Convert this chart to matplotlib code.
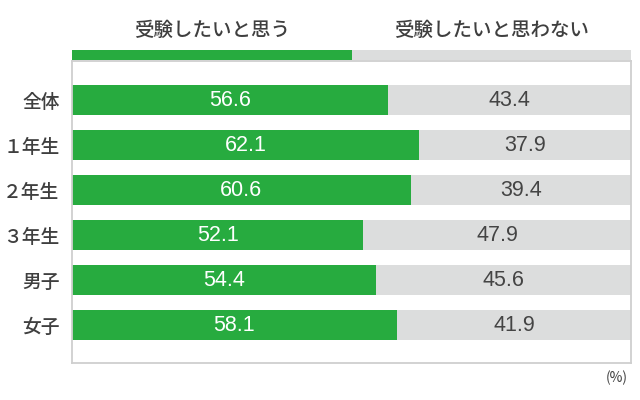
import matplotlib.pyplot as plt

plt.rcParams['font.family'] = ['Noto Sans CJK JP', 'DejaVu Sans']

# data
groups = ['全体', '１年生', '２年生', '３年生', '男子', '女子']
yes_vals = [56.6, 62.1, 60.6, 52.1, 54.4, 58.1]
no_vals = [43.4, 37.9, 39.4, 47.9, 45.6, 41.9]
legend_labels = ['受験したいと思う', '受験したいと思わない']

green = '#27ab3f'
gray = '#dcdddd'
text_col = '#3f3f3f'
W, H = 640, 400

fig = plt.figure(figsize=(6.4, 4.0), dpi=100)

# main chart
ax = fig.add_axes([72 / W, 1 - 363 / H, (631 - 72) / W, (363 - 61) / H])
ypos = list(range(len(groups)))
ax.barh(ypos, yes_vals, height=0.667, color=green, linewidth=0)
ax.barh(ypos, no_vals, left=yes_vals, height=0.667, color=gray, linewidth=0)

num_font = ['Liberation Sans', 'DejaVu Sans']
for y, a, b in zip(ypos, yes_vals, no_vals):
    ax.text(a / 2, y, f'{a:.1f}', ha='center', va='center',
            color='white', fontsize=15.5, family=num_font)
    ax.text(a + b / 2, y, f'{b:.1f}', ha='center', va='center',
            color='#444444', fontsize=15.5, family=num_font)

ax.set_xlim(0, 100)
ax.set_ylim(5.84, -0.867)
ax.set_xticks([])
ax.set_yticks(ypos)
ax.set_yticklabels(groups, fontsize=13.5, color=text_col, fontweight='medium')
ax.tick_params(axis='y', length=0, pad=9)
for s in ax.spines.values():
    s.set_color('#cfcfcf')
    s.set_linewidth(1.3)

# legend strip on top
lax = fig.add_axes([72 / W, 1 - 60 / H, (631 - 72) / W, 10 / H])
lax.barh([0], [50], height=1, color=green, linewidth=0)
lax.barh([0], [50], left=[50], height=1, color=gray, linewidth=0)
lax.set_xlim(0, 100)
lax.set_ylim(-0.5, 0.5)
lax.axis('off')
for i, lab in enumerate(legend_labels):
    lax.text(25 + 50 * i, 2.5, lab, ha='center', va='center',
             fontsize=14, color=text_col, fontweight='medium')

fig.text(628 / W, 1 - 378 / H, '(%)', ha='right', va='center',
         fontsize=10, color=text_col)

fig.savefig('out.png', dpi=100)
